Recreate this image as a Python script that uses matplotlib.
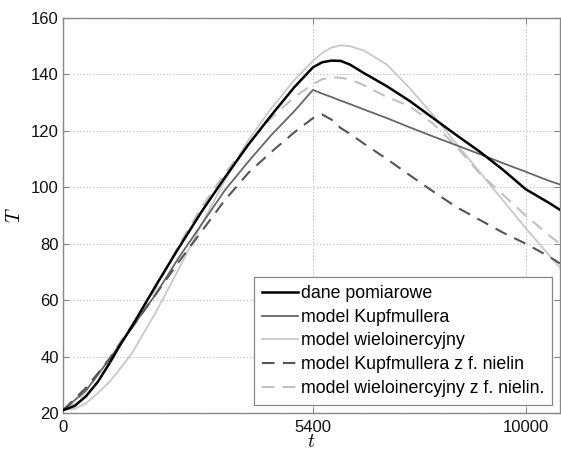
import matplotlib
matplotlib.use("Agg")
import matplotlib.pyplot as plt

# ---- data ----
t = [0, 250, 500, 750, 1000, 1250, 1500, 2000, 2500, 3000, 3500, 4000, 4500, 5000,
     5400, 5600, 5800, 6000, 6200, 6500, 7000, 7500, 8000, 8500, 9000, 9500,
     10000, 10500, 10740]

dane = [21, 22.5, 26, 31, 37.5, 44.5, 51, 65, 78.5, 91.5, 103.5, 115, 125.5, 135.5,
        142.5, 144.3, 144.9, 144.8, 143.5, 140.5, 135.8, 130.5, 124.5, 118.5,
        112.7, 106.3, 99.3, 94.5, 92]

kupf = [21, 24.5, 28, 33.5, 39, 44.8, 50.5, 62, 75, 87, 99, 109, 118.5, 127,
        134.5, 133.2, 132, 130.7, 129.5, 127.6, 124.5, 121.2, 118, 114.9,
        111.8, 108.6, 105.5, 102.3, 101]

wielo = [21, 21.5, 23.5, 27, 31, 36, 41.5, 55.5, 71, 87, 102.5, 116.5, 128, 138,
         144.8, 147.6, 149.5, 150.3, 150, 148.5, 143.5, 135, 125.5, 115.5,
         105.5, 95.5, 85.5, 76, 71.5]

kupf_nl = [21, 25, 29, 34, 39, 44.8, 50.5, 62, 73.5, 84.5, 95.5, 105, 112.5, 119.5,
           124.5, 125.8, 124, 121, 119, 115.5, 110, 104.2, 98.5, 93, 88.5, 84,
           80, 75.5, 73]

wielo_nl = [21, 23.5, 28, 33.5, 39.5, 45.5, 51.5, 64, 79.5, 93, 105, 115.5, 124.5,
            132, 136.5, 138.3, 139, 138.8, 138.2, 136.2, 132, 128.7, 122.5,
            114.5, 105, 97.5, 90, 83, 80]

labels = ["dane pomiarowe", "model Kupfmullera", "model wieloinercyjny",
          "model Kupfmullera z f. nielin", "model wieloinercyjny z f. nielin."]
xticks = [0, 5400, 10000]
yticks = [20, 40, 60, 80, 100, 120, 140, 160]

plt.rcParams['font.family'] = ['Liberation Sans', 'DejaVu Sans']
plt.rcParams['mathtext.fontset'] = 'cm'

fig = plt.figure(figsize=(5.61, 4.5), dpi=100)
ax = fig.add_axes([63/561, 1-413/450, (560-63)/561, (413-18)/450])

ax.plot(t, dane, color='black', lw=1.8, label=labels[0], zorder=5)
ax.plot(t, kupf, color='#666666', lw=1.3, label=labels[1], zorder=4)
ax.plot(t, wielo, color='#c8c8c8', lw=1.3, label=labels[2], zorder=3)
ax.plot(t, kupf_nl, color='#555555', lw=1.5, ls=(0, (6, 4)), label=labels[3], zorder=4)
ax.plot(t, wielo_nl, color='#c0c0c0', lw=1.5, ls=(0, (6, 4)), label=labels[4], zorder=3)

ax.set_xlim(0, 10740)
ax.set_ylim(20, 160)
ax.set_xticks(xticks)
ax.set_yticks(yticks)
ax.tick_params(direction='in', length=4, width=0.8, color='#888888',
               top=True, right=True, labelsize=12, labelcolor='#111111')
ax.tick_params(axis='x', pad=5)
ax.tick_params(axis='y', pad=3)
for s in ax.spines.values():
    s.set_color('#888888')
    s.set_linewidth(1.0)
ax.grid(True, ls=(0, (1, 2)), color='#bbbbbb', lw=0.8)
ax.set_axisbelow(True)

ax.set_xlabel('$t$', fontsize=14, labelpad=-1)
ax.set_ylabel('$T$', fontsize=14, labelpad=5)

leg = ax.legend(loc='lower right', fontsize=12.8, frameon=True, fancybox=False,
                edgecolor='#888888', framealpha=1, handlelength=2.0,
                handletextpad=0.15, labelspacing=0.38, borderpad=0.45,
                borderaxespad=0.45)
leg.get_frame().set_linewidth(0.9)

fig.savefig('out.png', dpi=100)
